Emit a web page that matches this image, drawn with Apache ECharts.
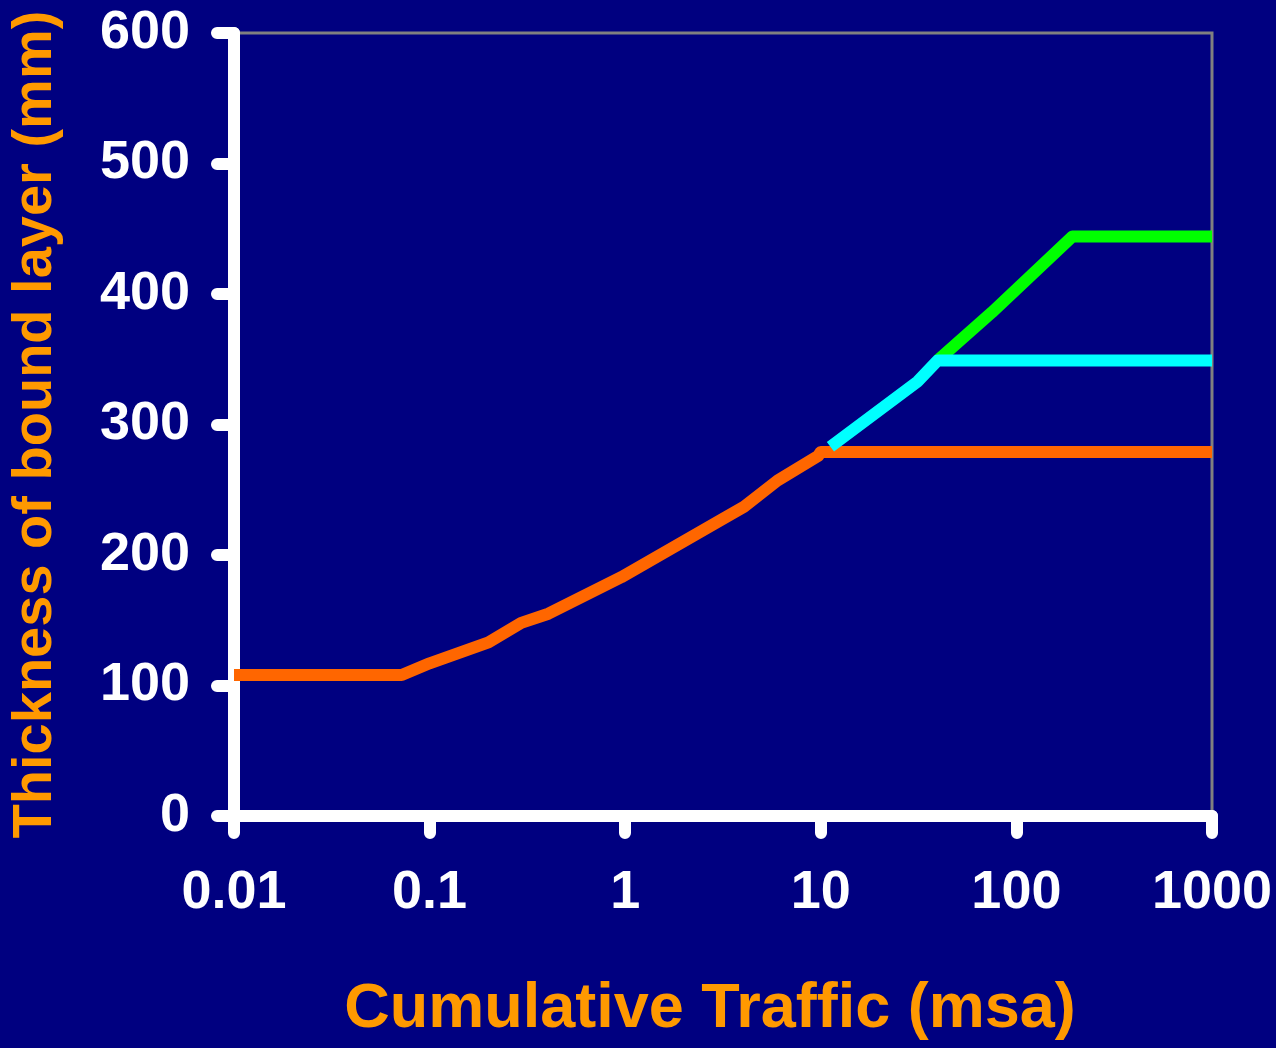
<!DOCTYPE html>
<html>
<head>
<meta charset="utf-8">
<script src="https://cdn.jsdelivr.net/npm/echarts@6/dist/echarts.min.js"></script>
<style>html,body{margin:0;padding:0;background:#000080;}#c{width:1276px;height:1048px;}</style>
</head>
<body>
<div id="c"></div>
<script>
const xTickLabels = ['0.01', '0.1', '1', '10', '100', '1000'];
const yTickValues = [0, 100, 200, 300, 400, 500, 600];
const xTitle = 'Cumulative Traffic (msa)';
const yTitle = 'Thickness of bound layer (mm)';
const orangeX = [0.01, 0.072, 0.1, 0.2, 0.294, 0.405, 0.955, 3.1, 4.05, 6.0, 9.7, 10, 1000];
const orangeY = [108, 108, 117, 133, 148, 155, 183, 227, 237, 257, 276, 279, 279];
const cyanX = [11.2, 31.3, 39.5, 1000];
const cyanY = [283, 333, 349, 349];
const greenX = [39.5, 75, 193, 1000];
const greenY = [349, 386, 444, 444];

const zip = (xs, ys) => xs.map((x, i) => [x, ys[i]]);
const font = '"Liberation Sans", Arial, sans-serif';

const chart = echarts.init(document.getElementById('c'));
chart.setOption({
  backgroundColor: '#000080',
  animation: false,
  grid: { left: 232, right: 64, top: 33, bottom: 232, show: true, borderColor: '#808080', borderWidth: 3, backgroundColor: 'transparent' },
  xAxis: {
    type: 'log', logBase: 10, min: 0.01, max: 1000,
    name: xTitle, nameLocation: 'middle', nameGap: 162,
    nameTextStyle: { color: '#FF9900', fontFamily: font, fontWeight: 'bold', fontSize: 63, padding: [0, 26, 0, 0] },
    axisLine: { show: true, lineStyle: { color: '#FFFFFF', width: 12, cap: 'round' } },
    axisTick: { show: true, length: 17, lineStyle: { color: '#FFFFFF', width: 12, cap: 'round' } },
    minorTick: { show: false },
    splitLine: { show: false },
    axisLabel: {
      color: '#FFFFFF', fontFamily: font, fontWeight: 'bold', fontSize: 54, margin: 50,
      formatter: v => { const i = Math.round(Math.log10(v)) + 2; return xTickLabels[i] || ''; }
    }
  },
  yAxis: {
    type: 'value', min: 0, max: 600, interval: 100,
    name: yTitle, nameLocation: 'middle', nameGap: 170, nameRotate: 90,
    nameTextStyle: { color: '#FF9900', fontFamily: font, fontWeight: 'bold', fontSize: 56 },
    axisLine: { show: true, lineStyle: { color: '#FFFFFF', width: 12, cap: 'round' } },
    axisTick: { show: true, length: 17, lineStyle: { color: '#FFFFFF', width: 12, cap: 'round' } },
    splitLine: { show: false },
    axisLabel: {
      color: '#FFFFFF', fontFamily: font, fontWeight: 'bold', fontSize: 54, margin: 44,
      formatter: v => yTickValues.includes(v) ? String(v) : ''
    }
  },
  series: [
    { type: 'line', data: zip(orangeX, orangeY), showSymbol: false, symbol: 'none', clip: false,
      lineStyle: { color: '#FF6600', width: 12, join: 'round' }, z: 3 },
    { type: 'line', data: zip(greenX, greenY), showSymbol: false, symbol: 'none', clip: false,
      lineStyle: { color: '#00FF00', width: 12, join: 'round' }, z: 4 },
    { type: 'line', data: zip(cyanX, cyanY), showSymbol: false, symbol: 'none', clip: false,
      lineStyle: { color: '#00FFFF', width: 12, join: 'round' }, z: 5 }
  ]
});
</script>
</body>
</html>
